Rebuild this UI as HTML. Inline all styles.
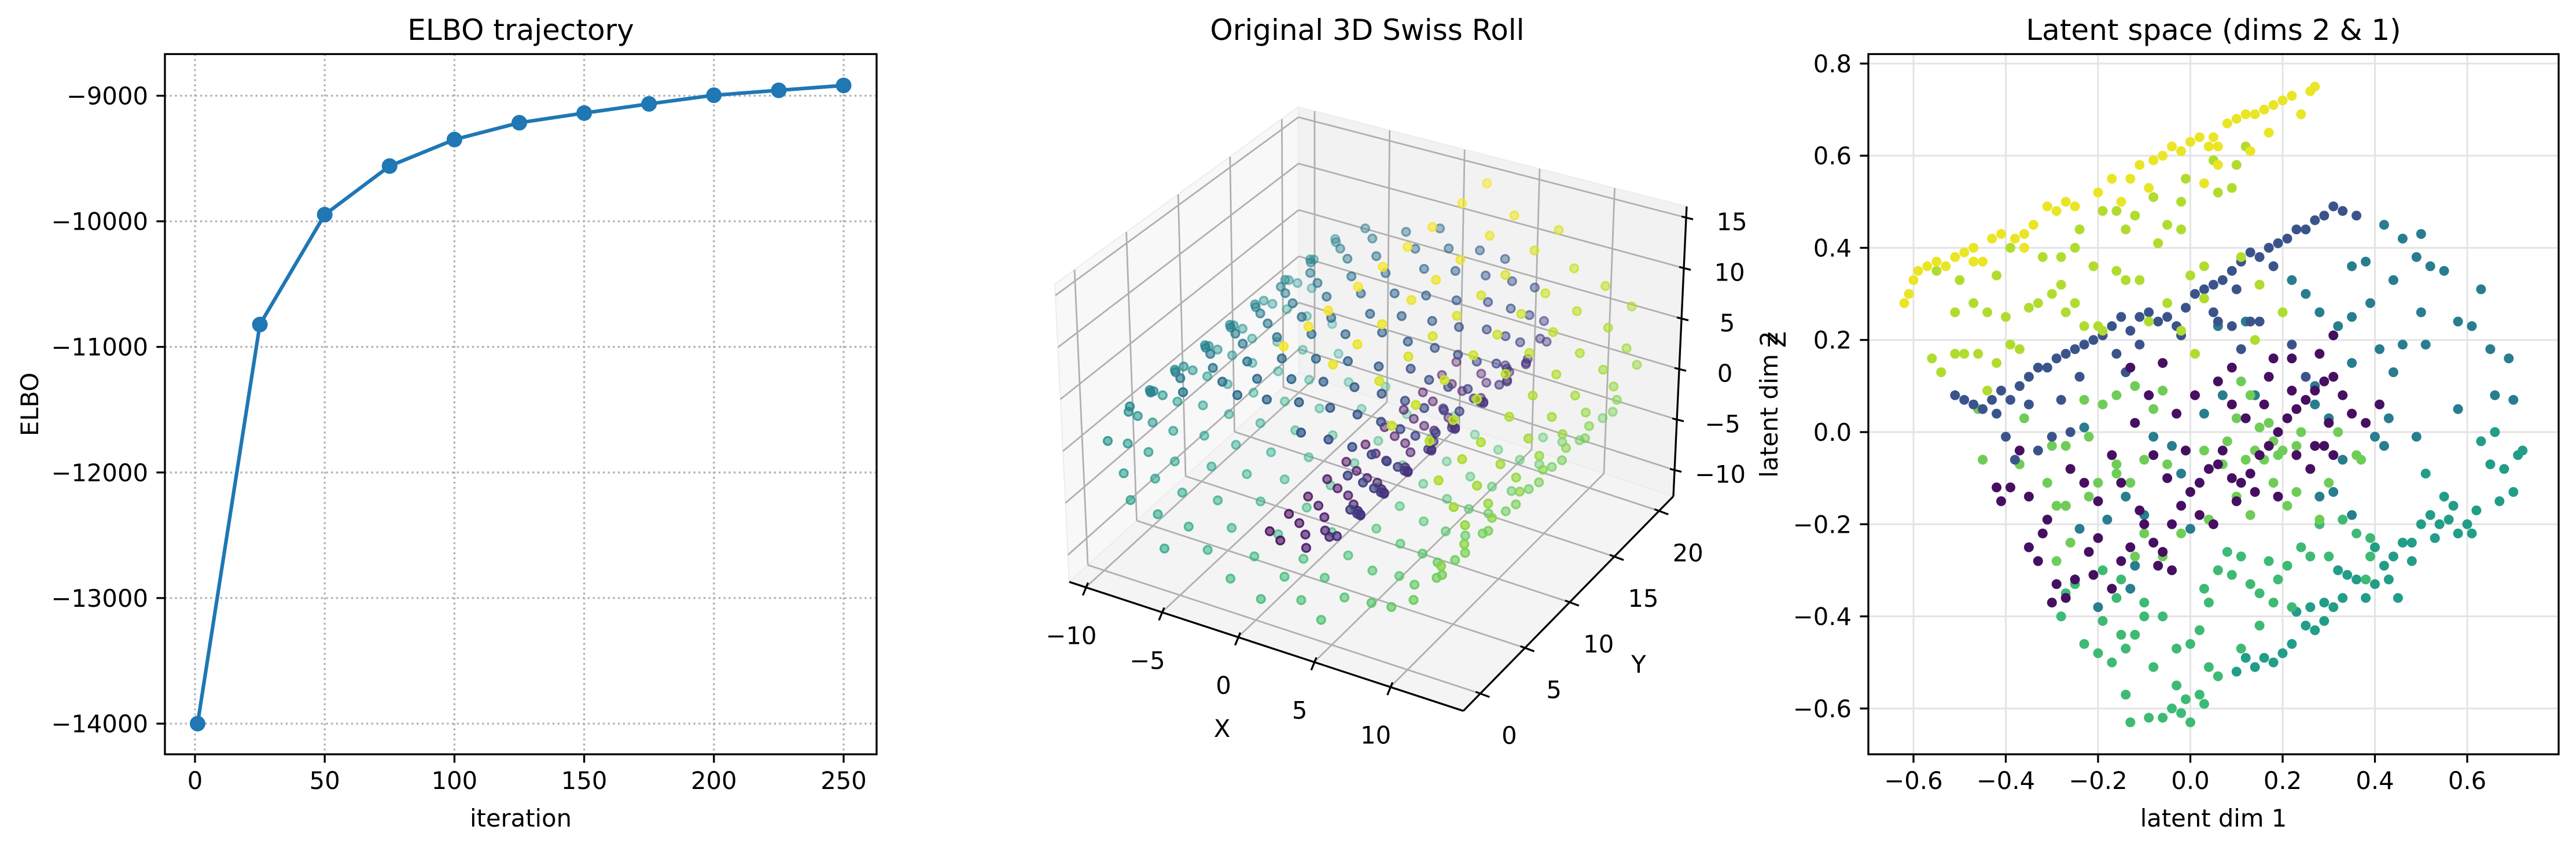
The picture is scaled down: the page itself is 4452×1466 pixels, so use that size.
<!DOCTYPE html>
<html><head><meta charset="utf-8"><style>
html,body{margin:0;padding:0;background:#fff;}
svg{display:block;font-family:"DejaVu Sans","Liberation Sans",sans-serif;}
</style></head><body>
<svg id="fig" width="4452" height="1466" viewBox="0 0 4452 1466" xmlns="http://www.w3.org/2000/svg">
<rect width="4452" height="1466" fill="#fff"/>
<g id="p1"></g>
<g id="p2"></g>
<g id="p3"></g>
</svg>
<script>
// ---------- data: ELBO ----------
const iters = [1,25,50,75,100,125,150,175,200,225,250];
const elbo = [-14000,-10822,-9947,-9560,-9349,-9215,-9138,-9065,-8996,-8957,-8918];
const elboXTicks = [0,50,100,150,200,250];
const elboYTicks = [-14000,-13000,-12000,-11000,-10000,-9000];

// ---------- data: Swiss roll groups [x, z, colour, y values] ----------
const rollGroups = [
[0.42,-4.78,0.01,[1,3,5,7,9,11,13,15,17,19,20.5]],
[1.42,-4.79,0.03,[0.5,2.5,4.5,6.5,8.5,10.5,12.5,14.5,16.5,18.5]],
[2.44,-4.59,0.05,[1.5,3.5,6,8,10,12,14,16,18,20]],
[3.43,-4.17,0.07,[0,2,5,7.5,11,13.5,15,19,21]],
[4.34,-3.54,0.09,[1,4,6.5,9,12,14,17,20]],
[5.14,-2.69,0.11,[0.5,3,5.5,8,10.5,13,16,18.5,20.5]],
[5.76,-1.68,0.14,[2,4.5,7,9.5,12,15,17.5,19.5]],
[6.18,-0.52,0.16,[1,3.5,6,8.5,11,14,16,19,21]],
[6.36,0.75,0.18,[0,2.5,5,9,11.5,13,16.5,20]],
[6.27,2.06,0.20,[1.5,4,7,10,12.5,15.5,18,20.5]],
[5.91,3.36,0.22,[0.5,3,6,8.5,11,14,17,19.5]],
[5.28,4.60,0.24,[2,5,7.5,10,13,16,18.5,21]],
[4.38,5.71,0.26,[1,4,6.5,9.5,12,14.5,17.5,20]],
[3.24,6.65,0.29,[0,3,5.5,8,11,13.5,16,19,21]],
[1.86,7.37,0.31,[2,4.5,7,10.5,12.5,15,18,20.5]],
[0.42,7.79,0.33,[1,3.5,6,9,11.5,14,17,19.5]],
[-1.16,7.92,0.35,[0.5,2.5,5,8,10,13,15.5,18.5,21]],
[-2.77,7.72,0.37,[1.5,4,7,9.5,12,14.5,17,20]],
[-4.36,7.18,0.39,[0,3,6,8.5,11,13.5,16.5,19]],
[-5.84,6.32,0.41,[2,5,7.5,10,12.5,15,18,20.5]],
[-7.14,5.15,0.43,[1,3.5,6.5,9,11.5,14,17,19.5]],
[-8.20,3.71,0.46,[0.5,2.5,5,8,10.5,13,16,18.5,21]],
[-8.97,2.05,0.48,[1.5,4,7,9.5,12,15,17.5,20]],
[-9.40,0.23,0.50,[0,3,5.5,8.5,11,13.5,16.5,19]],
[-9.45,-1.67,0.52,[2,4.5,7,10,12.5,14.5,18,20.5]],
[-9.11,-3.59,0.54,[1,3.5,6,9,11.5,14,16.5,19.5]],
[-8.39,-5.44,0.56,[0.5,3,5,8,10.5,13,15.5,18,21]],
[-7.29,-7.14,0.58,[1.5,4,7,9.5,12,14.5,17,20]],
[-5.93,-8.55,0.60,[0,2.5,5.5,8.5,11,13.5,16,19]],
[-4.38,-9.65,0.63,[2,4.5,7.5,10,12.5,15,18,20.5]],
[-2.26,-10.56,0.65,[1,3.5,6,9,11.5,14,16.5,19.5]],
[0.05,-11.0,0.67,[0.5,3,5,8,10.5,13,15.5,18.5,21]],
[2.09,-11.0,0.69,[1.5,4,6.5,9.5,12,14.5,17,20]],
[4.33,-10.55,0.71,[0,2.5,5.5,8.5,11,13.5,16,19]],
[6.43,-9.66,0.73,[2,5,7.5,10,12.5,15,18,20.5]],
[8.36,-8.32,0.75,[1,3.5,6,9,11.5,14,17,19.5]],
[10.13,-6.44,0.77,[0.5,3,5,8,10.5,13,15.5,18.5,21]],
[11.40,-4.35,0.79,[1.5,4,6.5,9.5,12,14.5,17,20]],
[12.25,-1.91,0.82,[0,2.5,5.5,8.5,11,13.5,16,19]],
[12.60,0.42,0.84,[2,4.5,7.5,10,12.5,15,18,20.5]],
[12.47,2.86,0.86,[1,3.5,6,9,11.5,14,17,19.5]],
[11.80,5.46,0.88,[0.5,3,5,8,10.5,13,15.5,18.5,21]],
[10.61,7.85,0.90,[1.5,4,6.5,9.5,12,14.5,17,20]],
[9.11,9.82,0.92,[0,2.5,5.5,8.5,11,13.5,16,19]],
[7.08,11.61,0.94,[2,5,7.5,10,12.5,15,18,20.5]],
[4.74,12.96,0.97,[1,3.5,6,9,11.5,14,17,19.5]],
[1.91,13.87,0.99,[0.5,3,5,8,10.5,13,15.5,18.5,21]]
];
const rollXTicks = [-10,-5,0,5,10];
const rollYTicks = [0,5,10,15,20];
const rollZTicks = [-10,-5,0,5,10,15];

// ---------- data: latent space (groups by colour) ----------
const latYellow = [[-0.62,0.28],[-0.61,0.30],[-0.60,0.33],[-0.59,0.35],[-0.57,0.36],[-0.55,0.37],[-0.53,0.36],[-0.51,0.38],[-0.49,0.39],[-0.47,0.40],[-0.45,0.37],[-0.43,0.42],[-0.41,0.43],[-0.38,0.42],[-0.36,0.43],[-0.34,0.45],[-0.31,0.49],[-0.29,0.48],[-0.27,0.50],[-0.25,0.49],[-0.20,0.52],[-0.17,0.55],[-0.15,0.50],[-0.13,0.55],[-0.11,0.58],[-0.09,0.53],[-0.08,0.59],[-0.06,0.60],[-0.04,0.62],[-0.02,0.61],[0.00,0.63],[0.02,0.64],[0.04,0.62],[0.05,0.64],[0.06,0.62],[0.08,0.67],[0.10,0.68],[0.12,0.69],[0.14,0.69],[0.16,0.70],[0.18,0.71],[0.20,0.72],[0.22,0.73],[0.24,0.69],[0.26,0.74],[0.27,0.75],[0.17,0.65],[0.13,0.61],[0.03,0.54],[0.06,0.58],[-0.36,0.40],[-0.47,0.37]];
const latYellowGreen = [[-0.56,0.16],[-0.54,0.13],[-0.51,0.17],[-0.49,0.17],[-0.46,0.17],[-0.44,0.09],[-0.42,0.15],[-0.40,0.25],[-0.39,0.19],[-0.37,0.18],[-0.35,0.27],[-0.33,0.28],[-0.30,0.30],[-0.28,0.32],[-0.27,0.26],[-0.25,0.28],[-0.23,0.23],[-0.21,0.36],[-0.19,0.22],[-0.16,0.35],[-0.14,0.33],[-0.11,0.33],[-0.09,0.24],[-0.07,0.41],[-0.05,0.45],[-0.02,0.44],[0.00,0.34],[0.03,0.36],[0.03,0.29],[0.06,0.52],[0.09,0.53],[0.11,0.38],[0.14,0.20],[0.15,0.32],[0.20,0.26],[-0.50,0.33],[-0.47,0.28],[-0.44,0.26],[-0.55,0.35],[-0.39,0.40],[-0.32,0.38],[-0.25,0.40],[-0.24,0.44],[-0.19,0.48],[-0.16,0.48],[-0.12,0.47],[-0.14,0.44],[-0.02,0.50],[-0.08,0.51],[-0.01,0.55],[0.05,0.59],[0.10,0.58],[0.12,0.62],[0.01,0.17],[-0.02,0.22],[-0.05,0.28],[-0.42,0.34],[-0.51,0.26],[-0.28,0.38],[-0.20,0.23]];
const latLightGreen = [[-0.46,0.05],[-0.45,-0.06],[-0.36,0.03],[-0.37,-0.07],[-0.30,-0.03],[-0.27,-0.03],[-0.23,0.07],[-0.22,-0.01],[-0.20,-0.11],[-0.27,-0.16],[-0.29,-0.16],[-0.31,-0.11],[-0.16,-0.09],[-0.13,-0.11],[-0.10,-0.06],[-0.10,-0.22],[-0.12,-0.27],[-0.06,-0.27],[-0.05,-0.07],[-0.02,-0.22],[0.03,-0.04],[0.07,-0.07],[0.10,0.03],[0.12,-0.06],[0.14,-0.04],[0.16,-0.06],[0.18,-0.02],[0.20,-0.04],[0.23,-0.03],[0.23,-0.13],[0.24,0.00],[0.28,-0.19],[0.32,0.00],[0.36,-0.05],[0.37,-0.06],[0.30,-0.11],[0.21,-0.16],[0.13,-0.18],[0.10,-0.14],[0.18,-0.11],[0.19,-0.05],[0.08,-0.02],[0.04,-0.19],[-0.06,0.09],[-0.12,0.10],[-0.08,0.05],[-0.16,0.08],[-0.19,0.06],[0.11,0.11],[0.13,0.08],[0.17,0.02],[0.15,0.01],[-0.16,-0.07],[-0.26,-0.24],[-0.22,-0.14],[-0.29,-0.28]];
const latDarkBlue = [[-0.51,0.08],[-0.49,0.07],[-0.47,0.06],[-0.45,0.05],[-0.43,0.07],[-0.41,0.09],[-0.39,0.07],[-0.37,0.10],[-0.35,0.12],[-0.33,0.14],[-0.31,0.14],[-0.29,0.16],[-0.27,0.17],[-0.25,0.18],[-0.23,0.19],[-0.21,0.20],[-0.19,0.21],[-0.17,0.23],[-0.15,0.25],[-0.13,0.22],[-0.11,0.25],[-0.09,0.26],[-0.07,0.24],[-0.05,0.25],[-0.03,0.23],[-0.01,0.27],[0.01,0.30],[0.03,0.31],[0.05,0.32],[0.07,0.33],[0.09,0.35],[0.11,0.37],[0.13,0.39],[0.15,0.38],[0.17,0.40],[0.19,0.41],[0.21,0.42],[0.23,0.44],[0.25,0.44],[0.27,0.46],[0.29,0.47],[0.31,0.49],[0.33,0.48],[0.36,0.47],[0.18,0.36],[0.10,0.31],[0.05,0.26],[-0.02,0.21],[-0.24,0.12],[-0.35,0.06],[-0.42,0.04],[-0.40,-0.01],[-0.38,-0.06],[-0.33,-0.04],[-0.30,-0.01],[-0.26,0.00],[-0.28,0.07],[-0.16,0.17],[-0.14,0.13],[-0.11,0.19],[0.06,0.24],[0.09,0.23],[0.13,0.24],[0.11,0.18],[0.15,0.24],[0.22,0.19],[0.25,0.12]];
const latTeal = [[0.42,0.45],[0.46,0.42],[0.50,0.43],[0.49,0.38],[0.44,0.33],[0.52,0.36],[0.55,0.35],[0.63,0.31],[0.50,0.26],[0.58,0.24],[0.61,0.23],[0.65,0.18],[0.69,0.16],[0.46,0.19],[0.51,0.19],[0.44,0.13],[0.39,0.28],[0.35,0.25],[0.32,0.23],[0.28,0.26],[0.25,0.30],[0.22,0.33],[0.38,0.37],[0.35,0.36],[0.41,0.18],[0.43,0.03],[0.40,-0.01],[0.35,0.15],[0.66,0.08],[0.70,0.07],[0.58,0.05],[0.49,-0.01],[0.42,-0.03],[0.27,0.10],[0.27,0.06],[0.30,0.03],[0.14,0.08],[0.12,0.24],[0.07,0.08],[0.03,0.04],[-0.04,-0.03],[-0.08,-0.01],[-0.02,-0.09],[0.00,-0.21],[0.04,-0.19],[-0.10,-0.18],[-0.14,-0.14],[-0.18,-0.19],[-0.20,-0.38],[-0.13,-0.34],[-0.12,-0.29],[-0.24,-0.21],[-0.27,-0.16],[-0.23,0.01],[0.06,0.23],[0.33,-0.06],[0.28,-0.14],[0.31,-0.13],[0.35,-0.18]];
const latTealGreen = [[0.71,-0.05],[0.72,-0.04],[0.68,-0.08],[0.65,-0.07],[0.70,-0.13],[0.67,-0.15],[0.62,-0.17],[0.60,-0.20],[0.58,-0.22],[0.56,-0.19],[0.54,-0.20],[0.52,-0.18],[0.50,-0.20],[0.48,-0.24],[0.46,-0.24],[0.44,-0.27],[0.42,-0.29],[0.40,-0.33],[0.38,-0.36],[0.36,-0.32],[0.34,-0.31],[0.33,-0.36],[0.31,-0.38],[0.29,-0.41],[0.27,-0.43],[0.25,-0.42],[0.22,-0.46],[0.20,-0.48],[0.18,-0.50],[0.16,-0.49],[0.14,-0.51],[0.12,-0.49],[0.10,-0.52],[0.63,-0.02],[0.66,0.00],[0.55,-0.14],[0.51,-0.09],[0.48,-0.28],[0.43,-0.32],[0.23,-0.39],[0.26,-0.38],[0.29,-0.37],[0.32,-0.30],[0.53,-0.23],[0.57,-0.16],[0.61,-0.22],[0.45,-0.36],[0.40,-0.25]];
const latGreen = [[0.00,-0.63],[-0.02,-0.61],[-0.04,-0.60],[-0.06,-0.62],[-0.09,-0.62],[-0.13,-0.63],[-0.01,-0.58],[0.02,-0.57],[0.03,-0.59],[-0.03,-0.55],[0.04,-0.51],[0.06,-0.53],[0.00,-0.46],[0.02,-0.43],[-0.08,-0.51],[-0.03,-0.47],[-0.14,-0.57],[-0.14,-0.47],[-0.17,-0.50],[-0.20,-0.48],[-0.23,-0.46],[-0.19,-0.41],[-0.16,-0.36],[-0.10,-0.40],[-0.06,-0.40],[-0.12,-0.44],[-0.15,-0.44],[0.03,-0.34],[0.04,-0.37],[0.09,-0.31],[0.11,-0.27],[0.13,-0.33],[0.15,-0.35],[0.17,-0.28],[0.19,-0.32],[0.21,-0.29],[0.24,-0.25],[0.26,-0.27],[0.28,-0.20],[0.30,-0.27],[0.33,-0.19],[0.36,-0.22],[0.39,-0.23],[0.39,-0.27],[0.18,-0.37],[0.15,-0.42],[0.11,-0.47],[0.08,-0.26],[0.06,-0.30],[-0.28,-0.40],[-0.25,-0.33],[-0.19,-0.30],[-0.15,-0.32],[-0.10,-0.37],[0.22,-0.38],[-0.27,-0.35],[0.38,-0.32]];
const latPurple = [[-0.29,-0.33],[-0.30,-0.37],[-0.27,-0.36],[-0.25,-0.32],[-0.21,-0.31],[-0.17,-0.34],[-0.15,-0.28],[-0.13,-0.25],[-0.10,-0.20],[-0.08,-0.24],[-0.06,-0.26],[-0.04,-0.20],[-0.02,-0.16],[0.00,-0.13],[0.02,-0.11],[0.04,-0.08],[0.06,-0.07],[0.09,-0.10],[0.11,-0.11],[0.13,-0.09],[0.15,-0.05],[0.17,-0.03],[0.19,0.00],[0.21,0.03],[0.23,0.05],[0.25,0.07],[0.27,0.09],[0.29,0.11],[0.31,0.12],[0.33,0.08],[0.35,0.04],[0.38,0.02],[0.41,0.06],[0.30,0.02],[0.27,-0.03],[0.29,-0.03],[0.31,-0.05],[0.23,-0.05],[0.14,-0.13],[0.10,-0.15],[0.05,-0.20],[0.02,-0.18],[-0.04,-0.30],[-0.07,-0.29],[-0.11,-0.17],[-0.20,-0.23],[-0.22,-0.26],[-0.32,-0.22],[-0.35,-0.25],[-0.33,-0.28],[-0.31,-0.19],[-0.35,-0.14],[-0.42,-0.12],[-0.39,-0.12],[-0.41,-0.15],[-0.37,-0.04],[-0.20,-0.15],[-0.17,-0.05],[-0.12,0.02],[-0.08,-0.05],[-0.03,0.04],[0.01,0.08],[0.06,0.11],[0.09,0.06],[0.12,0.03],[0.17,0.12],[0.18,0.16],[0.22,0.16],[0.28,0.17],[0.31,0.21],[0.16,0.06],[0.07,-0.04],[-0.01,-0.04],[-0.05,-0.10],[-0.15,-0.11],[-0.26,-0.08],[-0.23,-0.11],[0.19,-0.14],[0.09,0.14],[0.22,0.09],[0.26,-0.08],[-0.09,0.08],[-0.06,0.15],[-0.13,0.14]];
const latGroupColors = [0.97,0.88,0.78,0.26,0.42,0.55,0.68,0.04];
const latTicksX = [-0.6,-0.4,-0.2,0.0,0.2,0.4,0.6];
const latTicksY = [-0.6,-0.4,-0.2,0.0,0.2,0.4,0.6,0.8];

// ---------- helpers ----------
const NS='http://www.w3.org/2000/svg';
function mk(parent, tag, attrs, text){
  const e=document.createElementNS(NS,tag);
  for(const k in attrs) e.setAttribute(k,attrs[k]);
  if(text!==undefined) e.textContent=text;
  parent.appendChild(e); return e;
}
const VIR=[[68,1,84],[72,36,117],[65,68,135],[53,95,141],[42,120,142],[33,145,140],[34,168,132],[68,191,112],[122,209,81],[189,223,38],[253,231,37]];
function viridis(t){
  t=Math.max(0,Math.min(1,t)); const f=t*10; const i=Math.min(9,Math.floor(f)); const r=f-i;
  const a=VIR[i],b=VIR[i+1];
  return 'rgb('+[0,1,2].map(k=>Math.round(a[k]+(b[k]-a[k])*r)).join(',')+')';
}
function fmt(v){ return (v<0?'\u2212':'')+Math.abs(v); }
function fmt1(v){ return (v<0?'\u2212':'')+Math.abs(v).toFixed(1); }
const FS=41.7;

// ================= Panel 1: ELBO =================
(function(){
  const g=document.getElementById('p1');
  const L=285,R=1515,T=93.5,B=1304;
  const sx=v=>337+(v-0)*(1458-337)/250;
  const sy=v=>165.5+(-9000-v)*(1251-165.5)/5000;
  elboXTicks.forEach(t=>{
    const x=sx(t);
    const gl=mk(g,'line',{x1:x,y1:T,x2:x,y2:B,stroke:'#b0b0b0','stroke-width':3.3,'stroke-dasharray':'3.3 5.4'});
     
    const tk=mk(g,'line',{x1:x,y1:B,x2:x,y2:B+14.6,stroke:'#000','stroke-width':3.3});
     
    const tl=mk(g,'text',{x:x,y:B+29+31,'font-size':FS,'text-anchor':'middle',fill:'#000'},fmt(t));
     
  });
  elboYTicks.forEach(t=>{
    const y=sy(t);
    const gl=mk(g,'line',{x1:L,y1:y,x2:R,y2:y,stroke:'#b0b0b0','stroke-width':3.3,'stroke-dasharray':'3.3 5.4'});
     
    const tk=mk(g,'line',{x1:L-14.6,y1:y,x2:L,y2:y,stroke:'#000','stroke-width':3.3});
     
    const tl=mk(g,'text',{x:L-29,y:y+15,'font-size':FS,'text-anchor':'end',fill:'#000'},fmt(t));
     
  });
  const pts=iters.map((v,i)=>sx(v)+','+sy(elbo[i])).join(' ');
  const ln=mk(g,'polyline',{points:pts,fill:'none',stroke:'#1f77b4','stroke-width':6.25,'stroke-linejoin':'round'});
   
  iters.forEach((v,i)=>{
    const c=mk(g,'circle',{cx:sx(v),cy:sy(elbo[i]),r:13.5,fill:'#1f77b4'});
     
  });
  const fr=mk(g,'rect',{x:L,y:T,width:R-L,height:B-T,fill:'none',stroke:'#000','stroke-width':3.3});
   
  const ti=mk(g,'text',{x:(L+R)/2,y:69,'font-size':50,'text-anchor':'middle'},'ELBO trajectory');
   
  const xl=mk(g,'text',{x:(L+R)/2,y:1429,'font-size':FS,'text-anchor':'middle'},'iteration');
   
  const yl=mk(g,'text',{x:0,y:0,'font-size':FS,'text-anchor':'middle',transform:'translate(66,699) rotate(-90)'},'ELBO');
   
})();

// ================= Panel 2: 3D Swiss roll =================
(function(){
  const g=document.getElementById('p2');
  const xmin=-11.08,xmax=14.8,ymin=-1.9,ymax=21.6,zmin=-12.6,zmax=16.1;
  const C={'000':[1848,1006],'100':[2529,1229],'110':[2892,858],'010':[2245,645],
           '001':[1823,491],'011':[2244,185],'111':[2915,357],'101':[2527,690]};
  function lerp(a,b,t){return [a[0]+(b[0]-a[0])*t,a[1]+(b[1]-a[1])*t];}
  function proj(x,y,z){
    const u=(x-xmin)/(xmax-xmin),v=(y-ymin)/(ymax-ymin),w=(z-zmin)/(zmax-zmin);
    const a=lerp(lerp(C['000'],C['100'],u),lerp(C['010'],C['110'],u),v);
    const b=lerp(lerp(C['001'],C['101'],u),lerp(C['011'],C['111'],u),v);
    return lerp(a,b,w);
  }
  function poly(pts,fill,name){
    const p=mk(g,'polygon',{points:pts.map(p=>p.join(',')).join(' '),fill:fill,stroke:'#ececec','stroke-width':2});
     
  }
  poly([proj(xmin,ymin,zmin),proj(xmin,ymax,zmin),proj(xmin,ymax,zmax),proj(xmin,ymin,zmax)],'#f8f8f8','left-pane');
  poly([proj(xmin,ymax,zmin),proj(xmax,ymax,zmin),proj(xmax,ymax,zmax),proj(xmin,ymax,zmax)],'#f2f2f2','back-pane');
  poly([proj(xmin,ymin,zmin),proj(xmax,ymin,zmin),proj(xmax,ymax,zmin),proj(xmin,ymax,zmin)],'#f4f4f4','floor-pane');
  function gl(a,b){
    const l=mk(g,'line',{x1:a[0],y1:a[1],x2:b[0],y2:b[1],stroke:'#b0b0b0','stroke-width':2.8});
     
  }
  rollXTicks.forEach(x=>{gl(proj(x,ymin,zmin),proj(x,ymax,zmin));gl(proj(x,ymax,zmin),proj(x,ymax,zmax));});
  rollYTicks.forEach(y=>{gl(proj(xmin,y,zmin),proj(xmax,y,zmin));gl(proj(xmin,y,zmin),proj(xmin,y,zmax));});
  rollZTicks.forEach(z=>{gl(proj(xmin,ymin,z),proj(xmin,ymax,z));gl(proj(xmin,ymax,z),proj(xmax,ymax,z));});
  function axl(a,b,name){
    const l=mk(g,'line',{x1:a[0],y1:a[1],x2:b[0],y2:b[1],stroke:'#000','stroke-width':3.3});
     
  }
  axl(proj(xmin,ymin,zmin),proj(xmax,ymin,zmin),'x-axis-line');
  axl(proj(xmax,ymin,zmin),proj(xmax,ymax,zmin),'y-axis-line');
  axl(proj(xmax,ymax,zmin),proj(xmax,ymax,zmax),'z-axis-line');
  rollXTicks.forEach(x=>{
    const p=proj(x,ymin,zmin);
    axl([p[0]+4,p[1]-8],[p[0]-5,p[1]+14],'x-tick');
    const t=mk(g,'text',{x:p[0]-25,y:p[1]+83+15,'font-size':FS,'text-anchor':'middle'},fmt(x));
     
  });
  rollYTicks.forEach(y=>{
    const p=proj(xmax,y,zmin);
    axl([p[0]-8,p[1]-3],[p[0]+16,p[1]+6],'y-tick');
    const t=mk(g,'text',{x:p[0]+50,y:p[1]+72+15,'font-size':FS,'text-anchor':'middle'},fmt(y));
     
  });
  rollZTicks.forEach(z=>{
    const p=proj(xmax,ymax,z);
    axl([p[0]-8,p[1]-2],[p[0]+12,p[1]+3],'z-tick');
    const t=mk(g,'text',{x:p[0]+79,y:p[1]+7+15,'font-size':FS,'text-anchor':'middle'},fmt(z));
     
  });
  const pts=[];
  rollGroups.forEach(gr=>gr[3].forEach(y=>pts.push([gr[0],y,gr[1],gr[2]])));
  const e=[0.433,-0.75,0.5];
  pts.forEach(p=>{p.d=e[0]*(p[0]-xmin)/(xmax-xmin)+e[1]*(p[1]-ymin)/(ymax-ymin)+e[2]*(p[2]-zmin)/(zmax-zmin);});
  const dmin=Math.min(...pts.map(p=>p.d)),dmax=Math.max(...pts.map(p=>p.d));
  pts.sort((a,b)=>a.d-b.d);
  pts.forEach(p=>{
    const s=proj(p[0],p[1],p[2]);
    const a=0.35+0.65*(p.d-dmin)/(dmax-dmin);
    const col=viridis(p[3]);
    const c=mk(g,'circle',{cx:s[0].toFixed(1),cy:s[1].toFixed(1),r:7,fill:col,'fill-opacity':(a*0.8).toFixed(2),stroke:col,'stroke-opacity':Math.min(1,a*1.1).toFixed(2),'stroke-width':3.2});
     
  });
  const ti=mk(g,'text',{x:2363,y:69,'font-size':50,'text-anchor':'middle'},'Original 3D Swiss Roll');
   
  const xl=mk(g,'text',{x:2112,y:1274,'font-size':FS,'text-anchor':'middle'},'X');
   
  const yl=mk(g,'text',{x:2832,y:1163,'font-size':FS,'text-anchor':'middle'},'Y');
   
  const zl=mk(g,'text',{x:0,y:0,'font-size':FS,'text-anchor':'middle',transform:'translate(3086,587) rotate(-90)'},'Z');
   
})();

// ================= Panel 3: latent =================
(function(){
  const g=document.getElementById('p3');
  const L=3229,R=4422,T=93.5,B=1304;
  const sx=v=>3785.5+v*797.5;
  const sy=v=>747-v*796.4;
  latTicksX.forEach(t=>{
    const x=sx(t);
    const gl=mk(g,'line',{x1:x,y1:T,x2:x,y2:B,stroke:'#e4e4e4','stroke-width':3});
     
    const tk=mk(g,'line',{x1:x,y1:B,x2:x,y2:B+14.6,stroke:'#000','stroke-width':3.3});
     
    const tl=mk(g,'text',{x:x,y:B+29+31,'font-size':FS,'text-anchor':'middle'},fmt1(t));
     
  });
  latTicksY.forEach(t=>{
    const y=sy(t);
    const gl=mk(g,'line',{x1:L,y1:y,x2:R,y2:y,stroke:'#e4e4e4','stroke-width':3});
     
    const tk=mk(g,'line',{x1:L-14.6,y1:y,x2:L,y2:y,stroke:'#000','stroke-width':3.3});
     
    const tl=mk(g,'text',{x:L-29,y:y+15,'font-size':FS,'text-anchor':'end'},fmt1(t));
     
  });
  const groups=[latYellow,latYellowGreen,latLightGreen,latDarkBlue,latTeal,latTealGreen,latGreen,latPurple];
  const order=[4,5,6,2,3,7,1,0];
  order.forEach(gi=>{
    const col=viridis(latGroupColors[gi]);
    groups[gi].forEach(p=>{
      const c=mk(g,'circle',{cx:sx(p[0]).toFixed(1),cy:sy(p[1]).toFixed(1),r:8.5,fill:col});
       
    });
  });
  const fr=mk(g,'rect',{x:L,y:T,width:R-L,height:B-T,fill:'none',stroke:'#000','stroke-width':3.3});
   
  const ti=mk(g,'text',{x:(L+R)/2,y:69,'font-size':50,'text-anchor':'middle'},'Latent space (dims 2 & 1)');
   
  const xl=mk(g,'text',{x:(L+R)/2,y:1429,'font-size':FS,'text-anchor':'middle'},'latent dim 1');
   
  const yl=mk(g,'text',{x:0,y:0,'font-size':FS,'text-anchor':'middle',transform:'translate(3072,699) rotate(-90)'},'latent dim 2');
   
})();
</script>
</body></html>
